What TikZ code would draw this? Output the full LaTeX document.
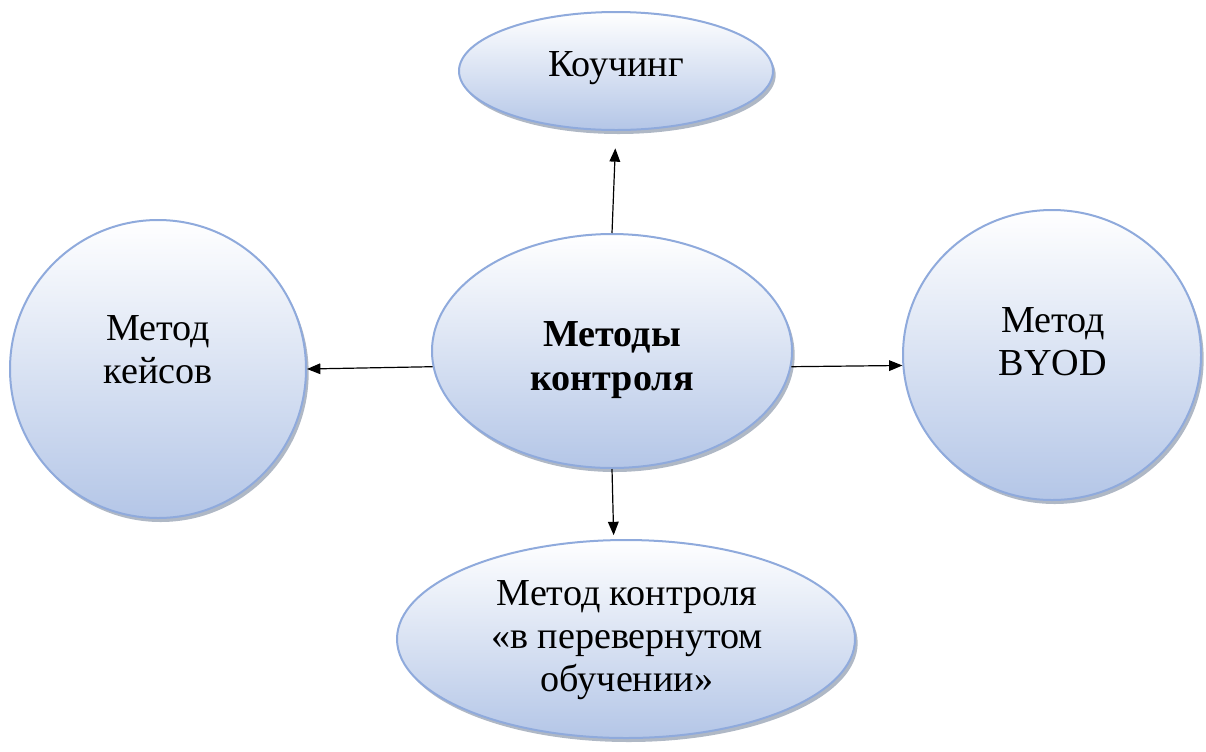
\documentclass[tikz,border=0pt]{standalone}
\usepackage{fontspec}
\setmainfont{Liberation Serif}
\usetikzlibrary{shapes.geometric,shadows,arrows.meta,calc}
\definecolor{bord}{RGB}{143,170,220}
\definecolor{fillbot}{RGB}{180,198,231}
\definecolor{shad}{RGB}{110,125,150}
\tikzset{
  bubble/.style={ellipse, draw=bord, line width=1.5pt, inner sep=0pt,
    top color=white, bottom color=fillbot,
    drop shadow={shadow xshift=2pt, shadow yshift=-3pt, fill=shad, opacity=0.55}},
  txt/.style={font=\fontsize{28.6}{32.5}\selectfont, align=center, inner sep=0pt},
  arr/.style={-{Triangle[length=10pt,width=8pt]}, line width=0.9pt, black}
}
\begin{document}
\begin{tikzpicture}[x=0.75pt,y=-0.75pt]
\useasboundingbox (0,0) rectangle (1206,751);
\node[bubble, minimum width=235.5pt, minimum height=88.5pt] (top) at (616,71) {};
\node[txt] (toptxt) at (616,68) {Коучинг};
\node[bubble, minimum width=270pt, minimum height=175.5pt] (mid) at (612,351) {};
\node[txt, font=\fontsize{28.6}{32.5}\selectfont\bfseries] (midtxt) at (612,360) {Методы\\контроля};
\node[bubble, minimum width=222pt, minimum height=223.5pt] (left) at (158,369) {};
\node[txt] (lefttxt) at (158,350) {Метод\\кейсов};
\node[bubble, minimum width=223.5pt, minimum height=217.5pt] (right) at (1052,355) {};
\node[txt] (righttxt) at (1053,342) {Метод\\BYOD};
\node[bubble, minimum width=343.5pt, minimum height=148.5pt] (bot) at (626,639) {};
\node[txt] (bottxt) at (627,640) {Метод контроля\\«в перевернутом\\обучении»};
\draw[arr, shorten >=13pt] (mid.north) -- (top.south);
\draw[arr] (mid.-175) -- (left.east);
\draw[arr] (mid.-5) -- (right.184);
\draw[arr, shorten >=3pt] (mid.south) -- (bot.97);
\end{tikzpicture}
\end{document}
